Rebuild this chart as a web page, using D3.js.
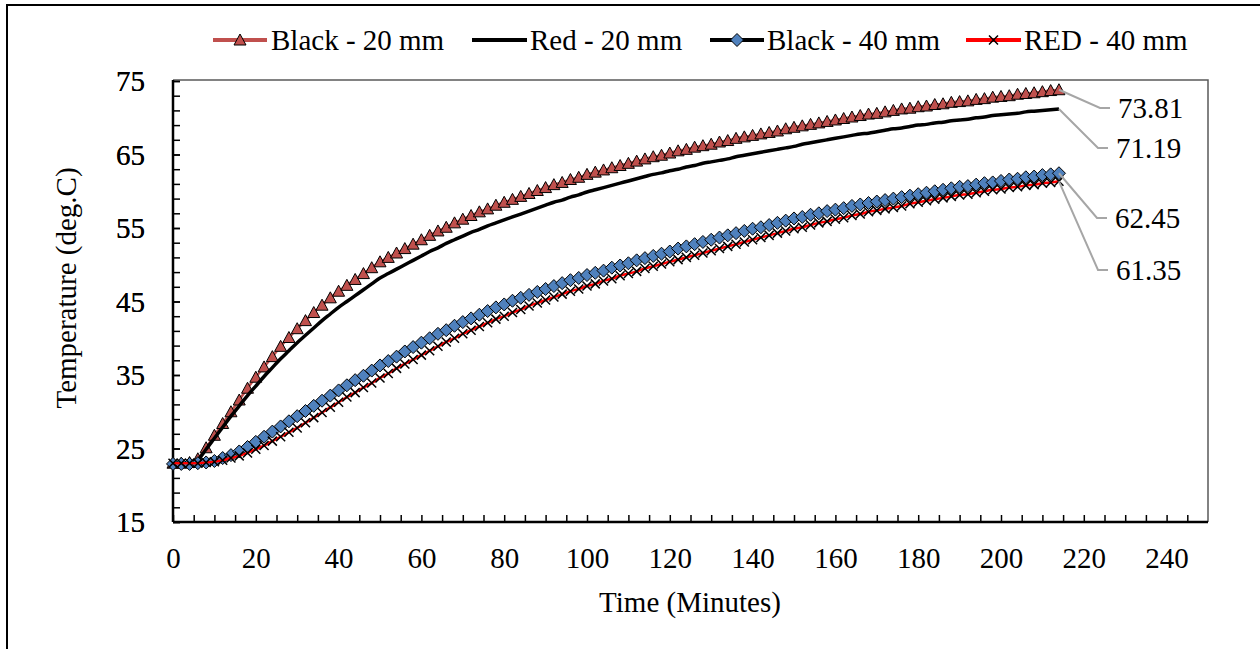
<!DOCTYPE html>
<html>
<head>
<meta charset="utf-8">
<script src="https://cdn.jsdelivr.net/npm/d3@7"></script>
<style>
  html, body { margin: 0; padding: 0; background: #fff; }
  svg { display: block; }
</style>
</head>
<body>
<svg id="chart" width="1260" height="649"></svg>
<script>
// ---------------- DATA ----------------
const times = [0,2,4,6,8,10,12,14,16,18,20,22,24,26,28,30,32,34,36,38,40,42,44,46,48,50,52,54,56,58,60,62,64,66,68,70,72,74,76,78,80,82,84,86,88,90,92,94,96,98,100,102,104,106,108,110,112,114,116,118,120,122,124,126,128,130,132,134,136,138,140,142,144,146,148,150,152,154,156,158,160,162,164,166,168,170,172,174,176,178,180,182,184,186,188,190,192,194,196,198,200,202,204,206,208,210,212,214];

const black20 = [23.0,23.0,23.1,23.6,25.1,26.8,28.4,30.0,31.6,33.2,34.7,36.1,37.5,38.9,40.1,41.3,42.4,43.5,44.5,45.5,46.4,47.2,48.0,48.8,49.6,50.4,51.0,51.6,52.2,52.8,53.4,54.0,54.6,55.1,55.7,56.2,56.7,57.2,57.6,58.1,58.5,58.9,59.3,59.7,60.1,60.5,60.9,61.2,61.6,61.9,62.3,62.6,62.9,63.2,63.5,63.8,64.1,64.4,64.7,64.9,65.2,65.5,65.7,66.0,66.2,66.4,66.7,66.9,67.2,67.4,67.6,67.8,68.0,68.2,68.5,68.7,68.9,69.1,69.3,69.5,69.7,69.9,70.1,70.3,70.5,70.6,70.8,71.0,71.2,71.3,71.5,71.6,71.8,71.9,72.1,72.2,72.3,72.5,72.6,72.8,72.9,73.0,73.2,73.3,73.4,73.55,73.7,73.81];

const red20 = [23.0,23.0,23.1,23.5,24.9,26.4,27.9,29.4,30.8,32.2,33.5,34.8,36.0,37.2,38.3,39.4,40.4,41.4,42.4,43.3,44.2,45.0,45.8,46.6,47.4,48.2,48.8,49.4,50.0,50.6,51.2,51.8,52.3,52.9,53.4,53.9,54.4,54.8,55.3,55.7,56.1,56.5,56.9,57.3,57.7,58.1,58.5,58.8,59.2,59.5,59.9,60.2,60.5,60.8,61.1,61.4,61.7,62.0,62.3,62.5,62.8,63.0,63.3,63.5,63.8,64.0,64.2,64.4,64.7,64.9,65.1,65.3,65.5,65.7,65.9,66.1,66.4,66.6,66.8,67.0,67.2,67.4,67.6,67.8,67.9,68.1,68.3,68.5,68.6,68.8,69.0,69.1,69.3,69.4,69.6,69.7,69.8,70.0,70.1,70.3,70.4,70.5,70.6,70.8,70.9,71.0,71.1,71.19];

const black40 = [22.9,22.9,22.9,23.0,23.1,23.3,23.7,24.1,24.6,25.2,25.9,26.6,27.3,28.0,28.7,29.4,30.1,30.8,31.5,32.2,32.9,33.6,34.3,34.9,35.6,36.3,36.9,37.5,38.2,38.8,39.4,40.0,40.6,41.1,41.7,42.2,42.7,43.2,43.7,44.2,44.6,45.1,45.5,45.9,46.3,46.7,47.1,47.5,47.9,48.2,48.6,48.9,49.2,49.6,49.9,50.2,50.6,50.9,51.2,51.5,51.8,52.2,52.5,52.8,53.1,53.4,53.7,54.0,54.3,54.6,54.9,55.1,55.4,55.7,56.0,56.3,56.5,56.8,57.0,57.3,57.5,57.7,58.0,58.2,58.4,58.6,58.8,59.0,59.2,59.4,59.6,59.8,60.0,60.2,60.4,60.6,60.7,60.9,61.1,61.2,61.4,61.6,61.7,61.9,62.0,62.2,62.3,62.45];

const red40 = [23.0,23.0,23.0,23.0,23.1,23.2,23.4,23.7,24.0,24.4,24.9,25.4,26.0,26.6,27.2,27.8,28.5,29.2,29.9,30.6,31.3,32.0,32.6,33.3,33.9,34.6,35.2,35.9,36.5,37.1,37.7,38.3,38.9,39.5,40.0,40.6,41.1,41.6,42.1,42.6,43.0,43.5,43.9,44.4,44.8,45.2,45.6,46.0,46.4,46.7,47.1,47.4,47.8,48.1,48.5,48.8,49.1,49.5,49.8,50.1,50.4,50.7,51.0,51.3,51.6,51.9,52.2,52.5,52.8,53.1,53.4,53.7,54.0,54.3,54.6,54.9,55.1,55.4,55.7,55.9,56.2,56.4,56.7,56.9,57.2,57.4,57.6,57.8,58.0,58.3,58.5,58.7,58.9,59.1,59.3,59.5,59.6,59.8,60.0,60.2,60.3,60.5,60.6,60.8,60.9,61.1,61.2,61.35];

const seriesNames = ["Black - 20 mm", "Red - 20 mm", "Black - 40 mm", "RED - 40 mm"];
const xTickLabels = [0,20,40,60,80,100,120,140,160,180,200,220,240];
const yTickLabels = [15,25,35,45,55,65,75];

// ---------------- LAYOUT ----------------
const FF = "'Liberation Serif', Tinos, 'Times New Roman', Times, 'Nimbus Roman', 'DejaVu Serif', serif";
const FONT = 29;
const svg = d3.select("#chart");
const plot = { left: 173, right: 1208, top: 80, bottom: 522 };

const x = d3.scaleLinear().domain([0, 250]).range([plot.left, plot.right]);
const y = d3.scaleLinear().domain([15, 75]).range([plot.bottom, plot.top + 1]);

function styleText(sel) {
  return sel.attr("font-family", FF).style("font-family", FF)
    .attr("font-size", FONT).style("font-size", FONT + "px").attr("fill", "#000");
}

// outer frame (cropped on right/bottom)
svg.append("path")
  .attr("d", "M7,660 L7,5 L1270,5")
  .attr("fill", "none").attr("stroke", "#000").attr("stroke-width", 2);

// plot area border (top/right)
svg.append("path")
  .attr("d", `M${plot.left},${plot.top} L${plot.right},${plot.top} L${plot.right},${plot.bottom}`)
  .attr("fill", "none").attr("stroke", "#595959").attr("stroke-width", 1.5);

// axes
const xMinor = d3.range(0, 250, 5);
const xAxis = d3.axisBottom(x).tickValues(xMinor).tickSize(-7)
  .tickFormat(d => xTickLabels.includes(d) ? d : "");
const gx = svg.append("g").attr("transform", `translate(0,${plot.bottom})`).call(xAxis);
gx.attr("font-family", FF);
gx.select(".domain").attr("stroke", "#000").attr("stroke-width", 2.5)
  .attr("d", `M${plot.left},0H${plot.right}`);
gx.selectAll(".tick line").attr("stroke", "#000").attr("stroke-width", 1.5);
styleText(gx.selectAll(".tick text").attr("y", 46).attr("dy", 0));

const yMinor = d3.range(15, 76, 2).filter(v => v <= 75);
const yAxis = d3.axisLeft(y).tickValues(yMinor.concat(yTickLabels)).tickSize(-7)
  .tickFormat(d => yTickLabels.includes(d) ? d : "");
const gy = svg.append("g").attr("transform", `translate(${plot.left},0)`).call(yAxis);
gy.attr("font-family", FF);
gy.select(".domain").attr("stroke", "#000").attr("stroke-width", 2.5)
  .attr("d", `M0,${plot.bottom}V${plot.top}`);
gy.selectAll(".tick line").attr("stroke", "#000").attr("stroke-width", 1.5);
styleText(gy.selectAll(".tick text").attr("x", -28).attr("dy", "0.33em"));

// axis titles
styleText(svg.append("text").attr("x", 690).attr("y", 612).attr("text-anchor", "middle"))
  .text("Time (Minutes)");
styleText(svg.append("text").attr("transform", "translate(76,288) rotate(-90)")
  .attr("text-anchor", "middle")).text("Temperature (deg.C)");

// ---------------- SERIES ----------------
const triPath = "M0,-6 L6,5 L-6,5 Z";
const diaPath = "M0,-6.5 L6.5,0 L0,6.5 L-6.5,0 Z";
const xPath = "M-4.5,-4.5 L4.5,4.5 M-4.5,4.5 L4.5,-4.5";

const series = [
  { name: seriesNames[0], values: black20, line: "#C0504D", lw: 2.5, marker: triPath, fill: "#C0504D", mstroke: "#000", msw: 1 },
  { name: seriesNames[1], values: red20, line: "#000", lw: 3.5, marker: null },
  { name: seriesNames[2], values: black40, line: "#000", lw: 2.5, marker: diaPath, fill: "#4F81BD", mstroke: "#000", msw: 1 },
  { name: seriesNames[3], values: red40, line: "#FF0000", lw: 2.5, marker: xPath, fill: "none", mstroke: "#000", msw: 1.5 }
];

const lineGen = d3.line().x((d, i) => x(times[i])).y(d => y(d)).curve(d3.curveMonotoneX);

series.forEach(s => {
  const g = svg.append("g");
  g.append("path").datum(s.values).attr("d", lineGen)
    .attr("fill", "none").attr("stroke", s.line).attr("stroke-width", s.lw)
    .attr("stroke-linejoin", "round");
  if (s.marker) {
    g.selectAll("path.m").data(s.values).join("path").attr("class", "m")
      .attr("d", s.marker)
      .attr("transform", (d, i) => `translate(${x(times[i])},${y(d)})`)
      .attr("fill", s.fill).attr("stroke", s.mstroke).attr("stroke-width", s.msw);
  }
});

// ---------------- END LABELS ----------------
const endLabels = [
  { s: 0, ly: 108, ex: 1110 },
  { s: 1, ly: 148, ex: 1108 },
  { s: 2, ly: 218, ex: 1107 },
  { s: 3, ly: 270, ex: 1108 }
];
endLabels.forEach(l => {
  const s = series[l.s];
  const last = s.values.length - 1;
  const px = x(times[last]), py = y(s.values[last]);
  svg.append("path")
    .attr("d", `M${px},${py} L${l.ex - 10},${l.ly} L${l.ex},${l.ly}`)
    .attr("fill", "none").attr("stroke", "#A6A6A6").attr("stroke-width", 2);
  styleText(svg.append("text").attr("x", l.ex + 8).attr("y", l.ly).attr("dy", "0.35em"))
    .text(s.values[last].toFixed(2));
});

// ---------------- LEGEND ----------------
const legendPos = [
  { x1: 213, x2: 267, tx: 271 },
  { x1: 472, x2: 527, tx: 530 },
  { x1: 710, x2: 764, tx: 767 },
  { x1: 966, x2: 1021, tx: 1024 }
];
const ly = 40;
series.forEach((s, i) => {
  const p = legendPos[i];
  const g = svg.append("g");
  g.append("line").attr("x1", p.x1).attr("x2", p.x2).attr("y1", ly).attr("y2", ly)
    .attr("stroke", s.line).attr("stroke-width", 4);
  if (s.marker) {
    g.append("path").attr("d", s.marker)
      .attr("transform", `translate(${(p.x1 + p.x2) / 2},${ly})`)
      .attr("fill", s.fill).attr("stroke", s.mstroke).attr("stroke-width", s.msw);
  }
  styleText(g.append("text").attr("x", p.tx).attr("y", ly).attr("dy", "0.35em"))
    .text(s.name);
});
</script>
</body>
</html>
